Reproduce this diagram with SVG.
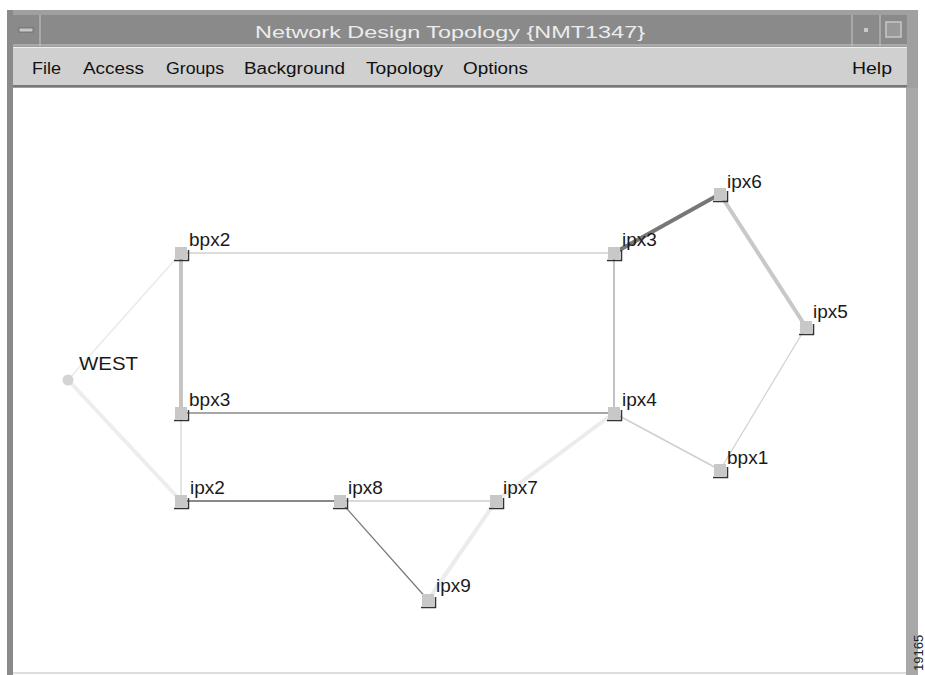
<svg xmlns="http://www.w3.org/2000/svg" width="925" height="675" viewBox="0 0 925 675">
<style>
.lbl{font-family:"Liberation Sans",Arial,sans-serif;font-size:19px;fill:#1a1a1a}
.menu{font-family:"Liberation Sans",Arial,sans-serif;font-size:16px;fill:#111}
.sq{fill:#c8c8c8}
.sh{fill:none;stroke:#333;stroke-width:1.5}
.e{fill:none}
</style>
<defs>
<g id="node">
<rect class="sq" x="-6" y="-6" width="12" height="12"/>
<path class="sh" d="M-7 7.5H7.5V-3"/>
</g>
</defs>
<rect width="925" height="675" fill="#fff"/>
<g id="frame">
<rect x="7" y="10" width="911" height="665" fill="#a0a0a0"/>
<rect x="13" y="15" width="894" height="31" fill="#8a8a8a"/>
<line x1="40" y1="15" x2="40" y2="46" stroke="#c8c8c8"/>
<line x1="852" y1="15" x2="852" y2="46" stroke="#c8c8c8"/>
<line x1="880" y1="15" x2="880" y2="46" stroke="#c8c8c8"/>
<line x1="13" y1="45" x2="907" y2="45" stroke="#c8c8c8"/>
<rect x="19" y="28" width="14" height="4" fill="#c8c8c8" stroke="#666" stroke-width="0.8"/>
<rect x="864" y="28" width="4" height="4" fill="#c8c8c8"/>
<rect x="886" y="22" width="15" height="15" fill="#999" stroke="#c8c8c8" stroke-width="1.5"/>
<text x="450" y="38" text-anchor="middle" font-family="'Liberation Sans',Arial,sans-serif" font-size="17" fill="#ececec" textLength="390" lengthAdjust="spacingAndGlyphs">Network Design Topology {NMT1347}</text>
<rect x="13" y="47" width="894" height="40" fill="#d0d0d0"/>
<line x1="13" y1="47.5" x2="907" y2="47.5" stroke="#eee"/>
<line x1="13" y1="86" x2="907" y2="86" stroke="#777" stroke-width="2"/>
<rect x="13" y="88" width="893" height="587" fill="#fff"/>
<rect x="7" y="10" width="6" height="665" fill="#8a8a8a"/>
<rect x="906" y="88" width="12" height="587" fill="#a8a8a8"/>
<line x1="13" y1="673" x2="906" y2="673" stroke="#ddd" stroke-width="2"/>
</g>
<g id="menu">
<text class="menu" x="32" y="74" textLength="29" lengthAdjust="spacingAndGlyphs">File</text>
<text class="menu" x="83" y="74" textLength="61" lengthAdjust="spacingAndGlyphs">Access</text>
<text class="menu" x="166" y="74" textLength="58" lengthAdjust="spacingAndGlyphs">Groups</text>
<text class="menu" x="244" y="74" textLength="101" lengthAdjust="spacingAndGlyphs">Background</text>
<text class="menu" x="366" y="74" textLength="77" lengthAdjust="spacingAndGlyphs">Topology</text>
<text class="menu" x="463" y="74" textLength="65" lengthAdjust="spacingAndGlyphs">Options</text>
<text class="menu" x="852" y="74" textLength="40" lengthAdjust="spacingAndGlyphs">Help</text>
</g>
<g id="connectors" class="e">
<line x1="181" y1="253" x2="614" y2="253" stroke="#d0d0d0" stroke-width="1.5"/>
<line x1="181" y1="253" x2="181" y2="413" stroke="#c4c4c4" stroke-width="4"/>
<line x1="181" y1="253" x2="68" y2="380" stroke="#eaeaea" stroke-width="1.5"/>
<line x1="68" y1="380" x2="181" y2="501" stroke="#ededed" stroke-width="4"/>
<line x1="181" y1="413" x2="614" y2="413" stroke="#8a8a8a" stroke-width="1.5"/>
<line x1="181" y1="413" x2="181" y2="501" stroke="#dcdcdc" stroke-width="1.5"/>
<line x1="614" y1="253" x2="614" y2="413" stroke="#999" stroke-width="1.2"/>
<line x1="614" y1="253" x2="720" y2="194" stroke="#777" stroke-width="4"/>
<line x1="720" y1="194" x2="806" y2="327" stroke="#c8c8c8" stroke-width="4"/>
<line x1="806" y1="327" x2="720" y2="470" stroke="#d0d0d0" stroke-width="1.2"/>
<line x1="614" y1="413" x2="720" y2="470" stroke="#cfcfcf" stroke-width="1.5"/>
<line x1="614" y1="413" x2="496" y2="501" stroke="#ececec" stroke-width="4"/>
<line x1="181" y1="501" x2="340" y2="501" stroke="#888" stroke-width="2"/>
<line x1="340" y1="501" x2="496" y2="501" stroke="#dadada" stroke-width="2"/>
<line x1="340" y1="501" x2="428" y2="600" stroke="#777" stroke-width="1.2"/>
<line x1="496" y1="501" x2="428" y2="600" stroke="#ececec" stroke-width="4"/>
</g>
<g id="WEST"><circle cx="68" cy="380" r="5.5" fill="#d4d4d4"/><text class="lbl" x="79" y="370" textLength="59" lengthAdjust="spacingAndGlyphs">WEST</text></g>
<g id="bpx2"><use href="#node" x="181" y="253"/><text class="lbl" x="189" y="246">bpx2</text></g>
<g id="ipx3"><use href="#node" x="614" y="253"/><text class="lbl" x="622" y="246">ipx3</text></g>
<g id="ipx6"><use href="#node" x="720" y="194"/><text class="lbl" x="727" y="188">ipx6</text></g>
<g id="ipx5"><use href="#node" x="806" y="327"/><text class="lbl" x="813" y="318">ipx5</text></g>
<g id="bpx3"><use href="#node" x="181" y="413"/><text class="lbl" x="189" y="406">bpx3</text></g>
<g id="ipx4"><use href="#node" x="614" y="413"/><text class="lbl" x="622" y="406">ipx4</text></g>
<g id="bpx1"><use href="#node" x="720" y="470"/><text class="lbl" x="727" y="464">bpx1</text></g>
<g id="ipx2"><use href="#node" x="181" y="501"/><text class="lbl" x="190" y="494">ipx2</text></g>
<g id="ipx8"><use href="#node" x="340" y="501"/><text class="lbl" x="348" y="494">ipx8</text></g>
<g id="ipx7"><use href="#node" x="496" y="501"/><text class="lbl" x="503" y="494">ipx7</text></g>
<g id="ipx9"><use href="#node" x="428" y="600"/><text class="lbl" x="436" y="592">ipx9</text></g>
<text x="923" y="671" transform="rotate(-90 923 671)" font-family="'Liberation Sans',Arial,sans-serif" font-size="13" fill="#222">19165</text>
</svg>
